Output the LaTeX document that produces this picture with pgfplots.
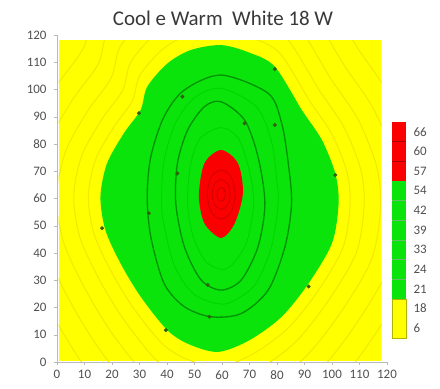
\documentclass[border=0pt]{standalone}
\usepackage{fontspec}
\setmainfont{Carlito}
\usepackage{pgfplots}
\pgfplotsset{compat=1.18}
\definecolor{yel}{RGB}{255,255,0}
\definecolor{grn}{RGB}{10,228,10}
\definecolor{fgrn}{RGB}{0,212,0}
\definecolor{dgrn}{RGB}{0,145,0}
\definecolor{mrk}{RGB}{50,95,20}
\definecolor{rd}{RGB}{250,0,0}
\definecolor{drd}{RGB}{210,0,0}
\definecolor{yring}{RGB}{242,232,0}
\definecolor{txt}{RGB}{80,80,80}
\begin{document}
\begin{tikzpicture}
\path[use as bounding box] (-57bp,-27bp) rectangle (383bp,362bp);
\begin{axis}[
  at={(0,0)}, anchor=south west,
  scale only axis, width=330bp, height=327bp,
  xmin=0, xmax=120, ymin=0, ymax=120,
  axis lines*=left,
  axis line style={draw=gray!55, -},
  xtick={0,10,...,120}, ytick={0,10,...,120},
  tick style={draw=gray!55}, tick align=outside, major tick length=3bp,
  ticklabel style={font=\fontsize{13}{13}\selectfont, text=txt},
  yticklabel style={xshift=-4bp},
  xticklabel style={yshift=-2bp},
  /pgf/number format/assume math mode=true,
  clip=true,
]
\clip (axis cs:0.6,0.3) rectangle (axis cs:118,118);
% background (lowest band)
\addplot[fill=yel, draw=none] coordinates {(0.6,0.3) (118,0.3) (118,118) (0.6,118)} -- cycle;
% faint contour lines in the yellow band
\addplot[smooth cycle, draw=yring, line width=1pt] coordinates {
(59.7,121.9) (71,118.9) (81.1,113.2) (91.9,95.8) (99.9,83.7) (105.3,70.1) (106.6,58.0) (104,42.0) (94.7,25.8) (83.9,12.3) (71,2.8) (58.5,-1.9) (46.8,1.2) (38.1,6.9) (27.4,20.4) (19.4,33.8) (13.4,47.2) (11.4,60.8) (14.0,74.2) (20.7,86.3) (27.4,95.8) (30.1,105.1) (38.2,114.6) (47.6,120.0)};
\addplot[smooth cycle, draw=yring, line width=1pt] coordinates {
(59.6,128.7) (72.2,125.3) (83.4,119.0) (95.4,99.7) (104.3,86.2) (110.3,71.2) (111.7,57.8) (108.8,40.0) (98.4,22.1) (86.5,7.1) (72.2,-3.4) (58.3,-8.7) (45.4,-5.3) (35.7,1.1) (23.9,16.1) (15.0,31.0) (8.3,45.8) (6.1,60.9) (9.0,75.7) (16.4,89.2) (23.9,99.7) (26.8,110.0) (35.8,120.5) (46.2,126.5)};
\addplot[smooth cycle, draw=yring, line width=1pt] coordinates {
(59.6,136.6) (73.6,132.8) (86.1,125.8) (99.4,104.2) (109.4,89.2) (116.0,72.5) (117.7,57.6) (114.4,37.7) (102.8,17.7) (89.5,1.0) (73.6,-10.7) (58.1,-16.6) (43.7,-12.8) (32.9,-5.7) (19.7,11.0) (9.8,27.6) (2.3,44.2) (-0.1,61.0) (3.2,77.5) (11.4,92.5) (19.7,104.2) (23.0,115.8) (33.1,127.5) (44.6,134.1)};
\addplot[smooth cycle, draw=yring, line width=1pt] coordinates {
(59.5,145.6) (75.2,141.3) (89.2,133.6) (104.1,109.4) (115.2,92.7) (122.6,74.0) (124.4,57.3) (120.8,35.1) (107.9,12.7) (93.0,-6.0) (75.2,-19.0) (57.9,-25.6) (41.8,-21.3) (29.8,-13.4) (15.0,5.3) (3.9,23.8) (-4.4,42.4) (-7.2,61.1) (-3.5,79.6) (5.7,96.3) (15.0,109.4) (18.7,122.3) (29.9,135.4) (42.8,142.8)};
\addplot[smooth cycle, draw=yring, line width=1pt] coordinates {
(59.5,155.7) (77,151) (92.6,142.3) (109.3,115.3) (121.7,96.6) (130,75.6) (132.1,56.9) (128,32.1) (113.6,7.1) (96.9,-13.8) (77,-28.4) (57.6,-35.7) (39.6,-31) (26.2,-22.1) (9.7,-1.2) (-2.7,19.5) (-12.1,40.3) (-15.1,61.2) (-11.1,81.9) (-0.7,100.6) (9.7,115.3) (13.8,129.7) (26.3,144.3) (40.8,152.7)};
% green band
\addplot[smooth cycle, fill=grn, draw=none] coordinates {
(59.7,116.3) (70,113.5) (79.2,108.4) (89,92.5) (96.3,81.5) (101.2,69.2) (102.4,58.2) (100,43.6) (91.5,28.9) (81.7,16.6) (70,8) (58.6,3.7) (48,6.5) (40.1,11.7) (30.4,24) (23.1,36.2) (17.6,48.4) (15.8,60.7) (18.2,72.9) (24.3,83.9) (30.4,92.5) (32.8,101) (40.2,109.6) (48.7,114.5)};
% faint contour lines inside the green band
\addplot[smooth cycle, draw=fgrn, line width=0.8pt] coordinates {
(59.7,86) (66,82) (70,70) (71.5,58) (69,44) (64,36) (59.7,34) (54,37) (49.5,46) (47.5,58) (48.5,72) (52,82)};
\addplot[smooth cycle, draw=fgrn, line width=0.8pt] coordinates {
(59.7,100.4) (72.5,93.7) (78,81) (80,66) (80.4,58.2) (78,42.3) (72,28.3) (63.4,22) (57.9,21.5) (49.4,25.2) (42.6,35.6) (38.6,52) (38,60.5) (39,74) (43,87.5) (50,97)};
% dark contour lines inside the green band
\addplot[smooth cycle, draw=dgrn, line width=1.3pt] coordinates {
(59.7,105.3) (76.8,98.6) (81.7,87.6) (84.1,72.9) (85.3,58.2) (82.9,42.3) (76.8,26.4) (67,17.8) (56,16.6) (46.3,20.3) (38.9,28.9) (34.1,46) (32.8,60.7) (34.1,75.3) (38.9,90) (46.3,99.8)};
\addplot[smooth cycle, draw=dgrn, line width=1.3pt] coordinates {
(59.7,95.5) (68.2,88.8) (73.1,75.3) (75.6,58.2) (73.1,42.3) (67,30.1) (59.7,26.4) (52.4,30.1) (46.3,42.3) (43.2,58.2) (43.8,72.9) (47.5,85.1) (53.6,93.7)};
% red band
\addplot[smooth cycle, fill=rd, draw=none] coordinates {
(59.7,77.8) (65.8,72.9) (67.6,62) (64.6,50.9) (59.7,45.5) (53.6,50.9) (51.6,61) (53.6,72.9)};
\addplot[smooth cycle, draw=drd, line width=0.9pt] coordinates {
(59.7,70.5) (63.3,68) (64.8,61.5) (63.3,55) (59.7,52.5) (56.1,55) (54.6,61.5) (56.1,68)};
\addplot[smooth cycle, draw=drd, line width=0.9pt] coordinates {
(59.7,67) (62.0,65.4) (63.0,61.5) (62.0,57.6) (59.7,56) (57.4,57.6) (56.4,61.5) (57.4,65.4)};
\addplot[smooth cycle, draw=drd, line width=0.9pt] coordinates {
(59.7,64) (60.8,63.3) (61.2,61.5) (60.8,59.7) (59.7,59) (58.6,59.7) (58.2,61.5) (58.6,63.3)};
% markers on contour lines
\addplot[only marks, mark=*, mark size=1.8pt, color=mrk] coordinates {
(79.2,107.5) (45.6,97.4) (29.8,91.3) (68.2,87.6) (79.2,87) (43.8,69.2) (101.2,68.6) (33.4,54.6) (16.4,49.1) (54.8,28.3) (91.5,27.7) (55.4,16.6) (39.6,11.7)};
\end{axis}
\node[font=\fontsize{21}{21}\selectfont, text=black!78] at (166bp,344bp) {Cool e Warm\ \ White 18 W};
% colour key
\begin{axis}[
  at={(335bp,24bp)}, anchor=south west,
  scale only axis, width=14bp, height=216bp,
  xmin=0, xmax=1, ymin=0, ymax=11,
  axis line style={draw=none},
  xtick=\empty,
  ytick={0.5,1.5,...,10.5},
  yticklabels={6,18,21,24,33,39,42,54,57,60,66},
  yticklabel pos=right,
  major tick length=0pt,
  yticklabel style={font=\fontsize{13}{13}\selectfont, text=txt, xshift=4bp},
  clip=false,
]
\addplot[fill=yel, draw=yel!70!black, line width=0.3pt] coordinates {(0,0) (1,0) (1,2) (0,2)} -- cycle;
\addplot[fill=grn, draw=none] coordinates {(0,2) (1,2) (1,8) (0,8)} -- cycle;
\addplot[fill=rd, draw=none] coordinates {(0,8) (1,8) (1,11) (0,11)} -- cycle;
\addplot[draw=dgrn!60, line width=0.3pt] coordinates {(0,3) (1,3)};
\addplot[draw=dgrn!60, line width=0.3pt] coordinates {(0,4) (1,4)};
\addplot[draw=dgrn!60, line width=0.3pt] coordinates {(0,5) (1,5)};
\addplot[draw=dgrn!60, line width=0.3pt] coordinates {(0,6) (1,6)};
\addplot[draw=dgrn!60, line width=0.3pt] coordinates {(0,7) (1,7)};
\addplot[draw=rd!70!black, line width=0.3pt] coordinates {(0,9) (1,9)};
\addplot[draw=rd!70!black, line width=0.3pt] coordinates {(0,10) (1,10)};
\end{axis}
\end{tikzpicture}
\end{document}
